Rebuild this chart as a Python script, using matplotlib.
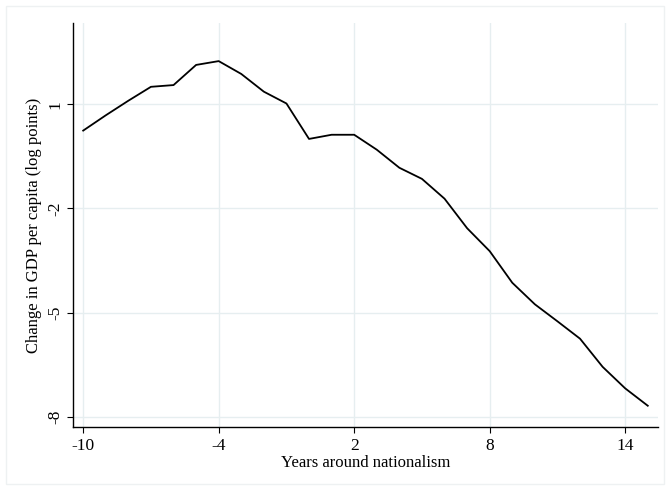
import matplotlib.pyplot as plt
from matplotlib.patches import Rectangle

# years relative to nationalism and estimated effect
years = list(range(-10, 16))
gdp_change = [
    0.24, 0.68, 1.10, 1.50, 1.55, 2.13, 2.24, 1.87, 1.36, 1.02,
    0.00, 0.12, 0.12, -0.31, -0.83, -1.15, -1.72, -2.57, -3.23, -4.14,
    -4.76, -5.25, -5.75, -6.56, -7.18, -7.68,
]
x_ticks = [-10, -4, 2, 8, 14]
y_ticks = [1, -2, -5, -8]

plt.rcParams["font.family"] = ["Liberation Serif", "DejaVu Serif"]
plt.rcParams["axes.unicode_minus"] = False

fig = plt.figure(figsize=(6.7, 4.9), dpi=100)
ax = fig.add_axes([0.109, 0.128, 0.873, 0.826])

# faint outer frame like the Stata graph region
fig.patches.append(
    Rectangle((6 / 670, 6 / 490), 658 / 670, 478 / 490, transform=fig.transFigure,
              fill=False, edgecolor="#eef1f2", lw=1)
)

ax.plot(years, gdp_change, color="black", lw=1.3)

ax.set_xlim(-10.45, 15.45)
ax.set_ylim(-8.3, 3.35)
ax.set_xticks(x_ticks)
ax.set_yticks(y_ticks)
ax.set_yticklabels([str(v) for v in y_ticks], rotation=90, va="center")
ax.tick_params(axis="both", labelsize=12.5, length=4, width=0.8, color="black")
ax.tick_params(axis="y", pad=3)

ax.grid(True, color="#e6eef0", lw=1)
ax.set_axisbelow(True)
for side in ["top", "right"]:
    ax.spines[side].set_visible(False)
for side in ["left", "bottom"]:
    ax.spines[side].set_linewidth(1)

ax.set_xlabel("Years around nationalism", fontsize=12, labelpad=1)
ax.set_ylabel("Change in GDP per capita (log points)", fontsize=12, labelpad=4)

fig.savefig("out.png", dpi=100, facecolor="white")
